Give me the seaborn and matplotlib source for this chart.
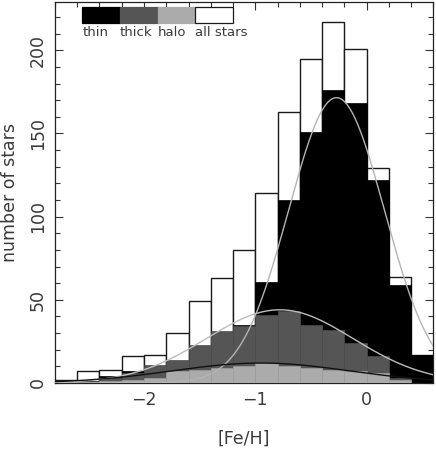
import numpy as np
import pandas as pd
import matplotlib
matplotlib.use("Agg")
import matplotlib.pyplot as plt
import seaborn as sns
from matplotlib.patches import Rectangle
from matplotlib.ticker import MultipleLocator

# ---- data ----
feh_centers = [-2.7, -2.5, -2.3, -2.1, -1.9, -1.7, -1.5, -1.3, -1.1, -0.9,
               -0.7, -0.5, -0.3, -0.1, 0.1, 0.3, 0.5]
n_all   = [2, 7, 8, 16, 17, 30, 49, 63, 80, 114, 163, 195, 217, 201, 129, 64, 17]
n_thin  = [0, 1, 4, 7, 3, 9, 18, 23, 35, 61, 110, 151, 176, 168, 122, 59, 17]
n_thick = [1, 1, 3, 6, 11, 14, 23, 31, 34, 41, 43, 35, 32, 24, 16, 3, 0]
n_halo  = [1, 0, 1, 2, 3, 7, 8, 9, 10, 12, 10, 9, 8, 7, 6, 2, 0]

# gaussian fits: amplitude, mean, sigma (thin, thick, halo)
fit_names = ["thin", "thick", "halo"]
fit_amp   = [171.5, 44.0, 12.0]
fit_mean  = [-0.27, -0.78, -0.95]
fit_sigma = [0.43, 0.66, 0.80]

legend_labels = ["thin", "thick", "halo", "all stars"]
x_ticks = [-2, -1, 0]
y_ticks = [0, 50, 100, 150, 200]

# ---- style ----
sns.set_style("ticks")
plt.rcParams["font.family"] = ["DejaVu Sans"]
TXT = "#3a3a3a"

fig = plt.figure(figsize=(4.36, 4.5), dpi=100)
ax = fig.add_axes([0.1261, 0.1489, 0.8677, 0.8467])

bw = 0.2
brange = (-2.8, 0.6)

df = pd.DataFrame({"feh": feh_centers, "all": n_all, "thin": n_thin,
                   "thick": n_thick, "halo": n_halo})

hist_specs = [("all", "white", "#1a1a1a", 1.0),
              ("thin", "black", "black", 0.5),
              ("thick", "#555555", "#4d4d4d", 0.5),
              ("halo", "#ababab", "#9e9e9e", 0.5)]
for z, (col, fc, ec, lw) in enumerate(hist_specs):
    sns.histplot(data=df, x="feh", weights=col, binwidth=bw, binrange=brange,
                 color=fc, edgecolor=ec, linewidth=lw, alpha=1, ax=ax,
                 zorder=1 + z)

xg = np.linspace(-2.8, 0.6, 500)
fit_colors = ["#b4b4b4", "#bdbdbd", "#111111"]
for a, m, s, c in zip(fit_amp, fit_mean, fit_sigma, fit_colors):
    yg = a * np.exp(-(xg - m) ** 2 / (2 * s ** 2))
    sns.lineplot(x=xg, y=yg, color=c, linewidth=1.0, ax=ax, zorder=5)

ax.set_xlim(-2.8, 0.6)
ax.set_ylim(0, 229)
ax.set_xticks(x_ticks)
ax.set_yticks(y_ticks)
ax.xaxis.set_minor_locator(MultipleLocator(0.2))
ax.yaxis.set_minor_locator(MultipleLocator(10))
ax.tick_params(which="both", direction="in", top=True, right=True,
               color="#333333", width=0.8, labelcolor=TXT, labelsize=12.5)
ax.tick_params(which="major", length=6)
ax.tick_params(which="minor", length=3.6)
ax.tick_params(axis="x", pad=6)
ax.tick_params(axis="y", pad=6)
for lab in ax.get_yticklabels():
    lab.set_rotation(90)
    lab.set_va("center")

for sp in ax.spines.values():
    sp.set_color("#222222")
    sp.set_linewidth(0.9)

ax.set_xlabel("[Fe/H]", fontsize=12.5, color=TXT, va="baseline")
ax.xaxis.set_label_coords(0.5, -0.160)
ax.set_ylabel("number of stars", fontsize=12.5, color=TXT, va="center")
ax.yaxis.set_label_coords(-0.119, 0.5)

# legend boxes
box_cols = ["black", "#555555", "#ababab", "white"]
x0, bwid, y0, bh = 0.072, 0.0997, 0.944, 0.042
for i, (c, lab) in enumerate(zip(box_cols, legend_labels)):
    ax.add_patch(Rectangle((x0 + i * bwid, y0), bwid, bh, transform=ax.transAxes,
                           facecolor=c, edgecolor=("#1a1a1a" if c == "white" else c),
                           linewidth=0.9, zorder=6))
    ax.text(x0 + i * bwid, 0.912, lab, transform=ax.transAxes, fontsize=9.5,
            color=TXT, ha="left", va="baseline", zorder=6)

fig.savefig("out.png", dpi=100)
